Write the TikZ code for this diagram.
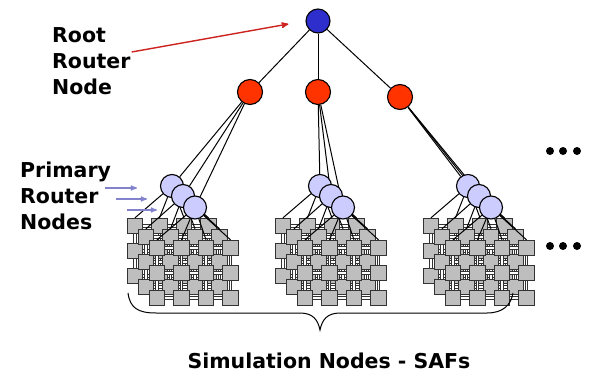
\documentclass[tikz,border=0pt]{standalone}
\usepackage{fontspec}
\setmainfont{DejaVu Sans}
\usepackage{tikz}
\usetikzlibrary{arrows,calc,positioning}
\pgfdeclarelayer{foreground}
\pgfsetlayers{main,foreground}

\definecolor{rootblue}{RGB}{46,46,204}
\definecolor{hubred}{RGB}{255,51,0}
\definecolor{primlav}{RGB}{204,204,255}
\definecolor{safgray}{RGB}{190,190,190}
\definecolor{ptrlav}{RGB}{130,130,205}
\definecolor{ptrred}{RGB}{205,35,30}

\begin{document}
\begin{tikzpicture}[>=stealth', x=1pt, y=-1pt,
	router/.style={circle, draw=black, line width=1.1pt, inner sep=0pt},
	root/.style={router, fill=rootblue, minimum size=24pt},
	hub/.style={router, fill=hubred, minimum size=25pt},
	prim/.style={router, fill=primlav, minimum size=23pt},
	saf/.style={rectangle, draw=black!80, fill=safgray, line width=0.9pt, minimum size=15.5pt, inner sep=0pt},
	link/.style={-, draw=black!80, line width=0.7pt, double=white, double distance=1.8pt},
	wire/.style={-, draw=black, line width=1pt},
	lbl/.style={font=\fontsize{20.5}{26}\selectfont\bfseries, inner sep=0pt},
	more/.style={circle, fill=black, minimum size=8pt, inner sep=0pt}]

	\useasboundingbox (0,0) rectangle (589,372);

	% root router and the three hub routers
	\node[root] (rt) at (318,21) {};
	\node[hub] (hub_1) at (250,92) {};
	\node[hub] (hub_2) at (318,92) {};
	\node[hub] (hub_3) at (400,97) {};

	\path[wire] (rt) edge (hub_1) edge (hub_2) edge (hub_3);

	% one block of SAF nodes per hub: 3 layers of 4x3 squares
	\foreach \c/\cx in {1/127, 2/275, 3/423} {
		\begin{pgfonlayer}{foreground}
			\node[prim] (prim_\c_1) at (\cx+45,186) {};
			\node[prim] (prim_\c_2) at (\cx+56,196) {};
			\node[prim] (prim_\c_3) at (\cx+68,207.5) {};
		\end{pgfonlayer}
		\foreach \k in {1,2,3}
			\draw[wire] (hub_\c) -- (prim_\c_\k);

		\foreach \l [count=\k] in {0,1,2} {
			\foreach \i in {0,...,3}
				\foreach \j in {0,1,2}
					\node[saf] (saf_\c_\l_\i_\j) at (\cx+8+24.5*\i+11*\l, 226+25*\j+11*\l) {};
			% mesh links inside the layer
			\foreach \i [count=\ii from 1] in {0,1,2}
				\foreach \j in {0,1,2}
					\draw[link] (saf_\c_\l_\i_\j) -- (saf_\c_\l_\ii_\j);
			\foreach \i in {0,...,3}
				\foreach \j [count=\jj from 1] in {0,1}
					\draw[link] (saf_\c_\l_\i_\j) -- (saf_\c_\l_\i_\jj);
			% primary router feeds the top row of its layer
			\foreach \i in {0,...,3}
				\draw[wire] (prim_\c_\k) -- (saf_\c_\l_\i_0.north);
		}
	}

	% more blocks to the right
	\foreach \x [count=\n] in {550,563,577} {
		\node[more] (more_a\n) at (\x,151) {};
		\node[more] (more_b\n) at (\x,246) {};
	}

	% labels
	\node[lbl, anchor=base west] (rt_lbl) at (52,42) {
		\begin{tabular}[t]{@{}l@{}}
			Root\\
			Router\\
			Node
		\end{tabular}
	};

	\node[lbl, anchor=base west] (prim_lbl) at (20,177) {
		\begin{tabular}[t]{@{}l@{}}
			Primary\\
			Router\\
			Nodes
		\end{tabular}
	};

	\draw[->, draw=ptrred, line width=1.4pt] ($(rt_lbl.base east) + (1, 10)$) -- ($(rt.west) + (-17, 3)$);

	\draw[->, draw=ptrlav, line width=1.2pt] ($(prim_lbl.base west) + (85, 11)$) -- ($(prim_1_1.west) + (-23, 2)$);
	\draw[->, draw=ptrlav, line width=1.2pt] ($(prim_lbl.base west) + (96, 22)$) -- ($(prim_1_2.west) + (-24, 3)$);
	\draw[->, draw=ptrlav, line width=1.2pt] ($(prim_lbl.base west) + (107, 33)$) -- ($(prim_1_3.west) + (-26, 2.5)$);

	% brace under all the blocks
	\draw[line width=1pt] (128,293) .. controls (130,308) and (138,313) .. (156,313) -- (300,313)
		.. controls (313,313) and (318,320) .. (320,330)
		.. controls (322,320) and (327,313) .. (340,313) -- (487,313)
		.. controls (503,313) and (511,305) .. (513,293);

	\node[lbl, anchor=base] (saf_lbl) at (329,368) {Simulation Nodes - SAFs};
\end{tikzpicture}
\end{document}
